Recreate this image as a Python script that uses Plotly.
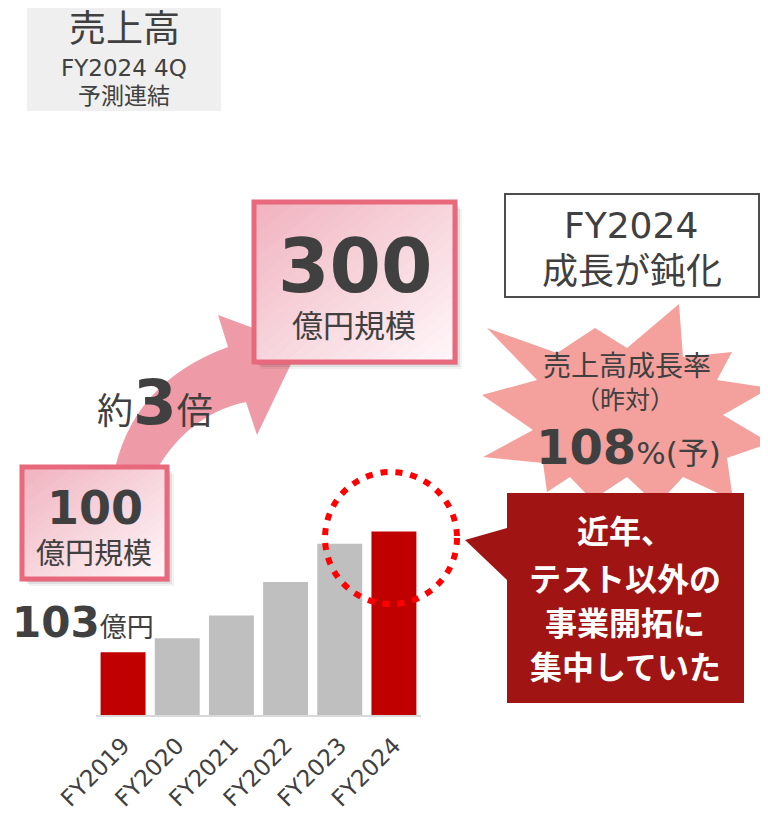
import plotly.graph_objects as go

# ---------------- data ----------------
years = ["FY2019", "FY2020", "FY2021", "FY2022", "FY2023", "FY2024"]
sales = [103, 126, 163, 218, 281, 301]          # 億円
highlight = [True, False, False, False, False, True]

title_lines = ["売上高", "FY2024 4Q", "予測連結"]
start_value = "100"
end_value = "300"
scale_label = "億円規模"
multiple = "3"
first_value = "103"
growth_rate = "108"
status_lines = ["FY2024", "成長が鈍化"]
burst_lines = ["売上高成長率", "（昨対）"]
callout_lines = ["近年、", "テスト以外の", "事業開拓に", "集中していた"]

# ---------------- helpers ----------------
W, H = 768, 828
OFF = 8            # the page body margin: figure starts 8px in from the window corner
FONT = "DejaVu Sans, Noto Sans CJK JP, sans-serif"
DARK = "#404040"


def X(px):
    return (px - OFF) / W


def Y(py):
    return 1 - (py - OFF) / H


def poly_path(points):
    return "M " + " L ".join(f"{X(x):.5f},{Y(y):.5f}" for x, y in points) + " Z"


shapes = []


def add_path(p, fill, line_color=None, line_width=0):
    shapes.append(dict(type="path", xref="paper", yref="paper", path=p,
                       fillcolor=fill,
                       line=dict(color=line_color or fill, width=line_width)))


def add_rect(x0, y0, x1, y1, fill=None, line_color=None, line_width=0):
    ln = dict(color=line_color or "rgba(0,0,0,0)", width=line_width)
    shapes.append(dict(type="rect", xref="paper", yref="paper",
                       x0=X(x0), x1=X(x1), y0=Y(y1), y1=Y(y0),
                       fillcolor=fill or "rgba(0,0,0,0)", line=ln))


def hex2rgb(h):
    h = h.lstrip("#")
    return tuple(int(h[i:i + 2], 16) for i in (0, 2, 4))


def mix(c0, c1, t):
    a, b = hex2rgb(c0), hex2rgb(c1)
    return "rgb(%d,%d,%d)" % tuple(round(a[i] + (b[i] - a[i]) * t) for i in range(3))


def clip(poly, fn, lo):
    out = []
    n = len(poly)
    for i in range(n):
        p, q = poly[i], poly[(i + 1) % n]
        fp, fq = fn(p) - lo, fn(q) - lo
        if fp >= 0:
            out.append(p)
        if (fp >= 0) != (fq >= 0):
            t = fp / (fp - fq)
            out.append((p[0] + t * (q[0] - p[0]), p[1] + t * (q[1] - p[1])))
    return out


def gradient_box(x0, y0, x1, y1, c0, c1, border, bw, n=28):
    # soft shadow
    for off, a in ((7, 0.05), (5, 0.07), (3, 0.10)):
        add_rect(x0 + off, y0 + off, x1 + off, y1 + off, fill=f"rgba(0,0,0,{a})")
    w, h = x1 - x0, y1 - y0
    rect = [(x0, y0), (x1, y0), (x1, y1), (x0, y1)]
    f = lambda p: (p[0] - x0) / w + (p[1] - y0) / h
    for i in range(n):
        s0, s1 = 2 * i / n, 2 * (i + 1) / n
        pl = clip(rect, f, s0)
        pl = clip(pl, lambda p: -f(p), -s1)
        if len(pl) >= 3:
            col = mix(c0, c1, (i + 0.5) / n)
            add_path(poly_path(pl), col, col, 0.8)
    add_rect(x0, y0, x1, y1, line_color=border, line_width=bw)


# ---------------- decorative shapes ----------------
add_rect(27, 0, 221, 111, fill="#efefef")                  # title box

# curved arrow 100 -> 300
arrow = (f"M {X(113):.5f},{Y(478):.5f} "
         f"Q {X(130):.5f},{Y(383):.5f} {X(228):.5f},{Y(347):.5f} "
         f"L {X(218):.5f},{Y(315):.5f} L {X(300):.5f},{Y(345):.5f} "
         f"L {X(257):.5f},{Y(435):.5f} L {X(246):.5f},{Y(402):.5f} "
         f"Q {X(185):.5f},{Y(415):.5f} {X(152):.5f},{Y(478):.5f} Z")
add_path(arrow, "#ef9ba7")

gradient_box(254, 202, 455, 362, "#f0b2bf", "#fff8fa", "#e8687c", 5)
gradient_box(22, 467, 167, 579, "#f0b2bf", "#fff8fa", "#e8687c", 5)

# status box
add_rect(505, 194, 759, 297, fill="#ffffff", line_color="#4d4d4d", line_width=2)

# starburst
burst = [(487, 328), (557, 353), (595, 328), (627, 348), (679, 304), (683, 357),
         (732, 352), (717, 380), (770, 388), (723, 415), (770, 443), (727, 458),
         (733, 500), (683, 477), (657, 505), (627, 477), (592, 500), (570, 477),
         (547, 492), (543, 463), (483, 457), (533, 430), (482, 395), (537, 380)]
add_path(poly_path(burst), "#f4a09c")

# callout
callout = [(507, 493), (744, 493), (744, 703), (507, 703), (507, 580), (465, 540), (507, 528)]
add_path(poly_path(callout), "#a01414")

# dotted circle around FY2023/FY2024
shapes.append(dict(type="circle", xref="paper", yref="paper",
                   x0=X(325), x1=X(457), y0=Y(604), y1=Y(472),
                   line=dict(color="#ff0000", width=6, dash="7px,8px")))

# ---------------- text ----------------
annotations = []


def ann(text, x, y, size, color=DARK, xanchor="center"):
    annotations.append(dict(text=text, x=X(x), y=Y(y), xref="paper", yref="paper",
                            showarrow=False, xanchor=xanchor, yanchor="middle",
                            font=dict(family=FONT, size=size, color=color)))


ann(title_lines[0], 124, 29, 37)
ann(title_lines[1], 124, 68, 23)
ann(title_lines[2], 124, 96, 23)

ann(f"<b>{end_value}</b>", 355, 266, 74)
ann(scale_label, 354, 326, 31)
ann(f"<b>{start_value}</b>", 95, 508, 46)
ann(scale_label, 94, 554, 29)

ann(f"約<span style='font-size:63px'><b>{multiple}</b></span>倍", 155, 402, 36)
ann(f"<b>{first_value}</b><span style='font-size:27px'>億円</span>", 10, 622, 42, xanchor="left")

ann(status_lines[0], 631, 225, 36)
ann(status_lines[1], 632, 271, 36)

ann(burst_lines[0], 627, 367, 28)
ann(burst_lines[1], 625, 400, 25)
ann(f"<b>{growth_rate}</b><span style='font-size:31px'>%(予)</span>", 628, 447, 48)

for line, yy in zip(callout_lines, [532, 580, 624, 668]):
    ann(f"<b>{line}</b>", 625, yy, 32, color="#ffffff")

# ---------------- figure ----------------
fig = go.Figure(go.Bar(
    x=years, y=sales,
    marker=dict(color=["#c00000" if h else "#bfbfbf" for h in highlight], line=dict(width=0)),
    hoverinfo="x+y",
))

fig.update_layout(
    template="none",
    width=W, height=H,
    margin=dict(l=0, r=0, t=0, b=0, pad=0, autoexpand=False),
    paper_bgcolor="#ffffff", plot_bgcolor="rgba(0,0,0,0)",
    showlegend=False, bargap=0.17,
    xaxis=dict(domain=[X(96), X(421)], showline=True, linecolor="#d9d9d9", linewidth=2,
               showgrid=False, zeroline=False, ticks="", tickangle=-45, automargin=False,
               ticklabelstandoff=6,
               tickfont=dict(family=FONT, size=23, color=DARK)),
    yaxis=dict(domain=[Y(715), Y(400)], range=[0, 516.6], visible=False, automargin=False),
    shapes=shapes, annotations=annotations,
)

fig.write_html("out.html")
